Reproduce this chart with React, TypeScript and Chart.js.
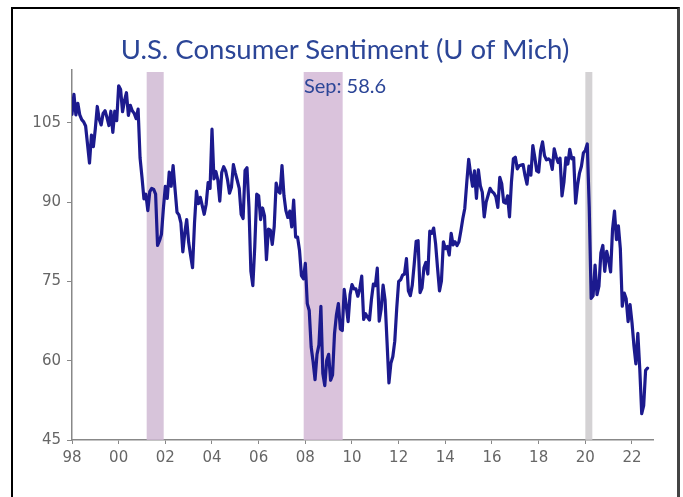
import React, { useEffect, useRef } from "react";
import { Chart, registerables } from "chart.js";

Chart.register(...registerables);

// Monthly University of Michigan consumer sentiment, Jan 1998 – Sep 2022
const startYear = 1998;
const s1998to2001 = [
  106.6, 110.4, 106.5, 108.7, 106.5, 105.6, 105.2, 104.4, 100.9, 97.4, 102.7, 100.5,
  103.9, 108.1, 105.7, 104.6, 106.8, 107.3, 106.0, 104.5, 107.2, 103.2, 107.2, 105.4,
  112.0, 111.3, 107.1, 109.2, 110.7, 106.4, 108.3, 107.3, 106.8, 105.8, 107.6, 98.4,
  94.7, 90.6, 91.5, 88.4, 92.0, 92.6, 92.4, 91.5, 81.8, 82.7, 83.9, 88.8,
];
const s2002to2005 = [
  93.0, 90.7, 95.7, 93.0, 96.9, 92.4, 88.1, 87.6, 86.1, 80.6, 84.2, 86.7,
  82.4, 79.9, 77.6, 86.0, 92.1, 89.7, 90.9, 89.3, 87.7, 89.6, 93.7, 92.6,
  103.8, 94.4, 95.8, 94.2, 90.2, 95.6, 96.7, 95.9, 94.2, 91.7, 92.8, 97.1,
  95.5, 94.1, 92.6, 87.7, 86.9, 96.0, 96.5, 89.1, 76.9, 74.2, 81.6, 91.5,
];
const s2006to2009 = [
  91.2, 86.7, 88.9, 87.4, 79.1, 84.9, 84.7, 82.0, 85.4, 93.6, 92.1, 91.7,
  96.9, 91.3, 88.4, 87.1, 88.3, 85.3, 90.4, 83.4, 83.4, 80.9, 76.1, 75.5,
  78.4, 70.8, 69.5, 62.6, 59.8, 56.4, 61.2, 63.0, 70.3, 57.6, 55.3, 60.1,
  61.2, 56.3, 57.3, 65.1, 68.7, 70.8, 66.0, 65.7, 73.5, 70.6, 67.4, 72.5,
];
const s2010to2013 = [
  74.4, 73.6, 73.6, 72.2, 73.6, 76.0, 67.8, 68.9, 68.2, 67.7, 71.6, 74.5,
  74.2, 77.5, 67.5, 69.8, 74.3, 71.5, 63.7, 55.8, 59.5, 60.8, 63.7, 69.9,
  75.0, 75.3, 76.2, 76.4, 79.3, 73.2, 72.3, 74.3, 78.3, 82.6, 82.7, 72.9,
  73.8, 77.6, 78.6, 76.4, 84.5, 84.1, 85.1, 82.1, 77.5, 73.2, 75.1, 82.5,
];
const s2014to2017 = [
  81.2, 81.6, 80.0, 84.1, 81.9, 82.5, 81.8, 82.5, 84.6, 86.9, 88.8, 93.6,
  98.1, 95.4, 93.0, 95.9, 90.7, 96.1, 93.1, 91.9, 87.2, 90.0, 91.3, 92.6,
  92.0, 91.7, 91.0, 89.0, 94.7, 93.5, 90.0, 89.8, 91.2, 87.2, 93.8, 98.2,
  98.5, 96.3, 96.9, 97.0, 97.1, 95.0, 93.4, 96.8, 95.1, 100.7, 98.5, 95.9,
];
const s2018to2022 = [
  95.7, 99.7, 101.4, 98.8, 98.0, 98.2, 97.9, 96.2, 100.1, 98.6, 97.5, 98.3,
  91.2, 93.8, 98.4, 97.2, 100.0, 98.2, 98.4, 89.8, 93.2, 95.5, 96.8, 99.3,
  99.8, 101.0, 89.1, 71.8, 72.3, 78.1, 72.5, 74.1, 80.4, 81.8, 76.9, 80.7,
  79.0, 76.8, 84.9, 88.3, 82.9, 85.5, 81.2, 70.3, 72.8, 71.7, 67.4, 70.6,
  67.2, 62.8, 59.4, 65.2, 58.4, 50.0, 51.5, 58.2, 58.6,
];

const sentiment = [
  ...s1998to2001,
  ...s2002to2005,
  ...s2006to2009,
  ...s2010to2013,
  ...s2014to2017,
  ...s2018to2022,
];

// Recessions (fractional years)
const recessionStart = [2001.2, 2007.93, 2020.0];
const recessionEnd = [2001.93, 2009.6, 2020.3];
const recessionColors = ["rgba(208,186,212,0.85)", "rgba(212,184,214,0.85)", "rgba(205,202,205,0.85)"];

const xTickYears = [1998, 2000, 2002, 2004, 2006, 2008, 2010, 2012, 2014, 2016, 2018, 2020, 2022];
const yTicks = [45, 60, 75, 90, 105];

const titleText = "U.S. Consumer Sentiment (U of Mich)";
const subtitleText = "Sep: 58.6";

export default function App() {
  const ref = useRef<HTMLCanvasElement | null>(null);

  useEffect(() => {
    if (!ref.current) return;
    const points = sentiment.map((v, i) => ({ x: startYear + i / 12, y: v }));

    const bandPlugin = {
      id: "recessionBands",
      beforeDatasetsDraw(chart: any) {
        const { ctx, chartArea, scales } = chart;
        ctx.save();
        recessionStart.forEach((s, i) => {
          const x0 = scales.x.getPixelForValue(s);
          const x1 = scales.x.getPixelForValue(recessionEnd[i]);
          ctx.fillStyle = recessionColors[i];
          ctx.fillRect(x0, chartArea.top + 2, x1 - x0, chartArea.bottom - chartArea.top - 2);
        });
        ctx.restore();
      },
    };

    const chart = new Chart(ref.current, {
      type: "line",
      data: {
        datasets: [
          {
            data: points,
            borderColor: "#1c1a8e",
            borderWidth: 3.2,
            borderJoinStyle: "round",
            borderCapStyle: "round",
            pointRadius: 0,
            tension: 0,
            fill: false,
          },
        ],
      },
      options: {
        animation: false,
        responsive: false,
        maintainAspectRatio: false,
        layout: { padding: { top: 70, right: 30, left: 0, bottom: 0 } },
        plugins: {
          legend: { display: false },
          tooltip: { enabled: false },
        },
        scales: {
          x: {
            type: "linear",
            min: 1998,
            max: 2022.9,
            afterBuildTicks: (scale: any) => {
              scale.ticks = xTickYears.map((v) => ({ value: v }));
            },
            afterFit: (scale: any) => {
              scale.height = 57;
            },
            ticks: {
              autoSkip: false,
              maxRotation: 0,
              padding: 5,
              color: "#666",
              font: { family: "DejaVu Sans, Arial", size: 15 },
              callback: (v: any) => String(Number(v) % 100).padStart(2, "0"),
            },
            grid: {
              drawOnChartArea: false,
              drawTicks: true,
              tickLength: 4,
              color: "#888",
            },
            border: { display: true, color: "#888", width: 1.5 },
          },
          y: {
            type: "linear",
            min: 45,
            max: 115,
            afterBuildTicks: (scale: any) => {
              scale.ticks = yTicks.map((v) => ({ value: v }));
            },
            afterFit: (scale: any) => {
              scale.width = 72;
            },
            ticks: {
              padding: 6,
              color: "#666",
              font: { family: "DejaVu Sans, Arial", size: 15 },
            },
            grid: {
              drawOnChartArea: false,
              drawTicks: true,
              tickLength: 5,
              color: "#888",
            },
            border: { display: true, color: "#888", width: 1.5 },
          },
        },
      },
      plugins: [bandPlugin],
    });
    return () => chart.destroy();
  }, []);

  return (
    <div>
      <div
        style={{
          position: "absolute",
          left: 11,
          top: 7,
          width: 669,
          height: 490,
          boxSizing: "border-box",
          borderLeft: "2px solid #000",
          borderTop: "2px solid #000",
          borderRight: "3px solid #444",
        }}
      />
      <canvas
        ref={ref}
        width={683}
        height={497}
        style={{ position: "absolute", left: 0, top: 0, width: 683, height: 497 }}
      />
      <div
        style={{
          position: "absolute",
          left: 0,
          top: 33,
          width: 690,
          textAlign: "center",
          fontFamily: "Lato, 'Open Sans', sans-serif",
          fontSize: 27.5,
          lineHeight: "32px",
          color: "#2b4597",
          pointerEvents: "none",
        }}
      >
        {titleText}
      </div>
      <div
        style={{
          position: "absolute",
          left: 0,
          top: 74,
          width: 690,
          textAlign: "center",
          fontFamily: "Lato, 'Open Sans', sans-serif",
          fontSize: 20,
          lineHeight: "22px",
          color: "#2b4597",
          pointerEvents: "none",
        }}
      >
        {subtitleText}
      </div>
    </div>
  );
}
